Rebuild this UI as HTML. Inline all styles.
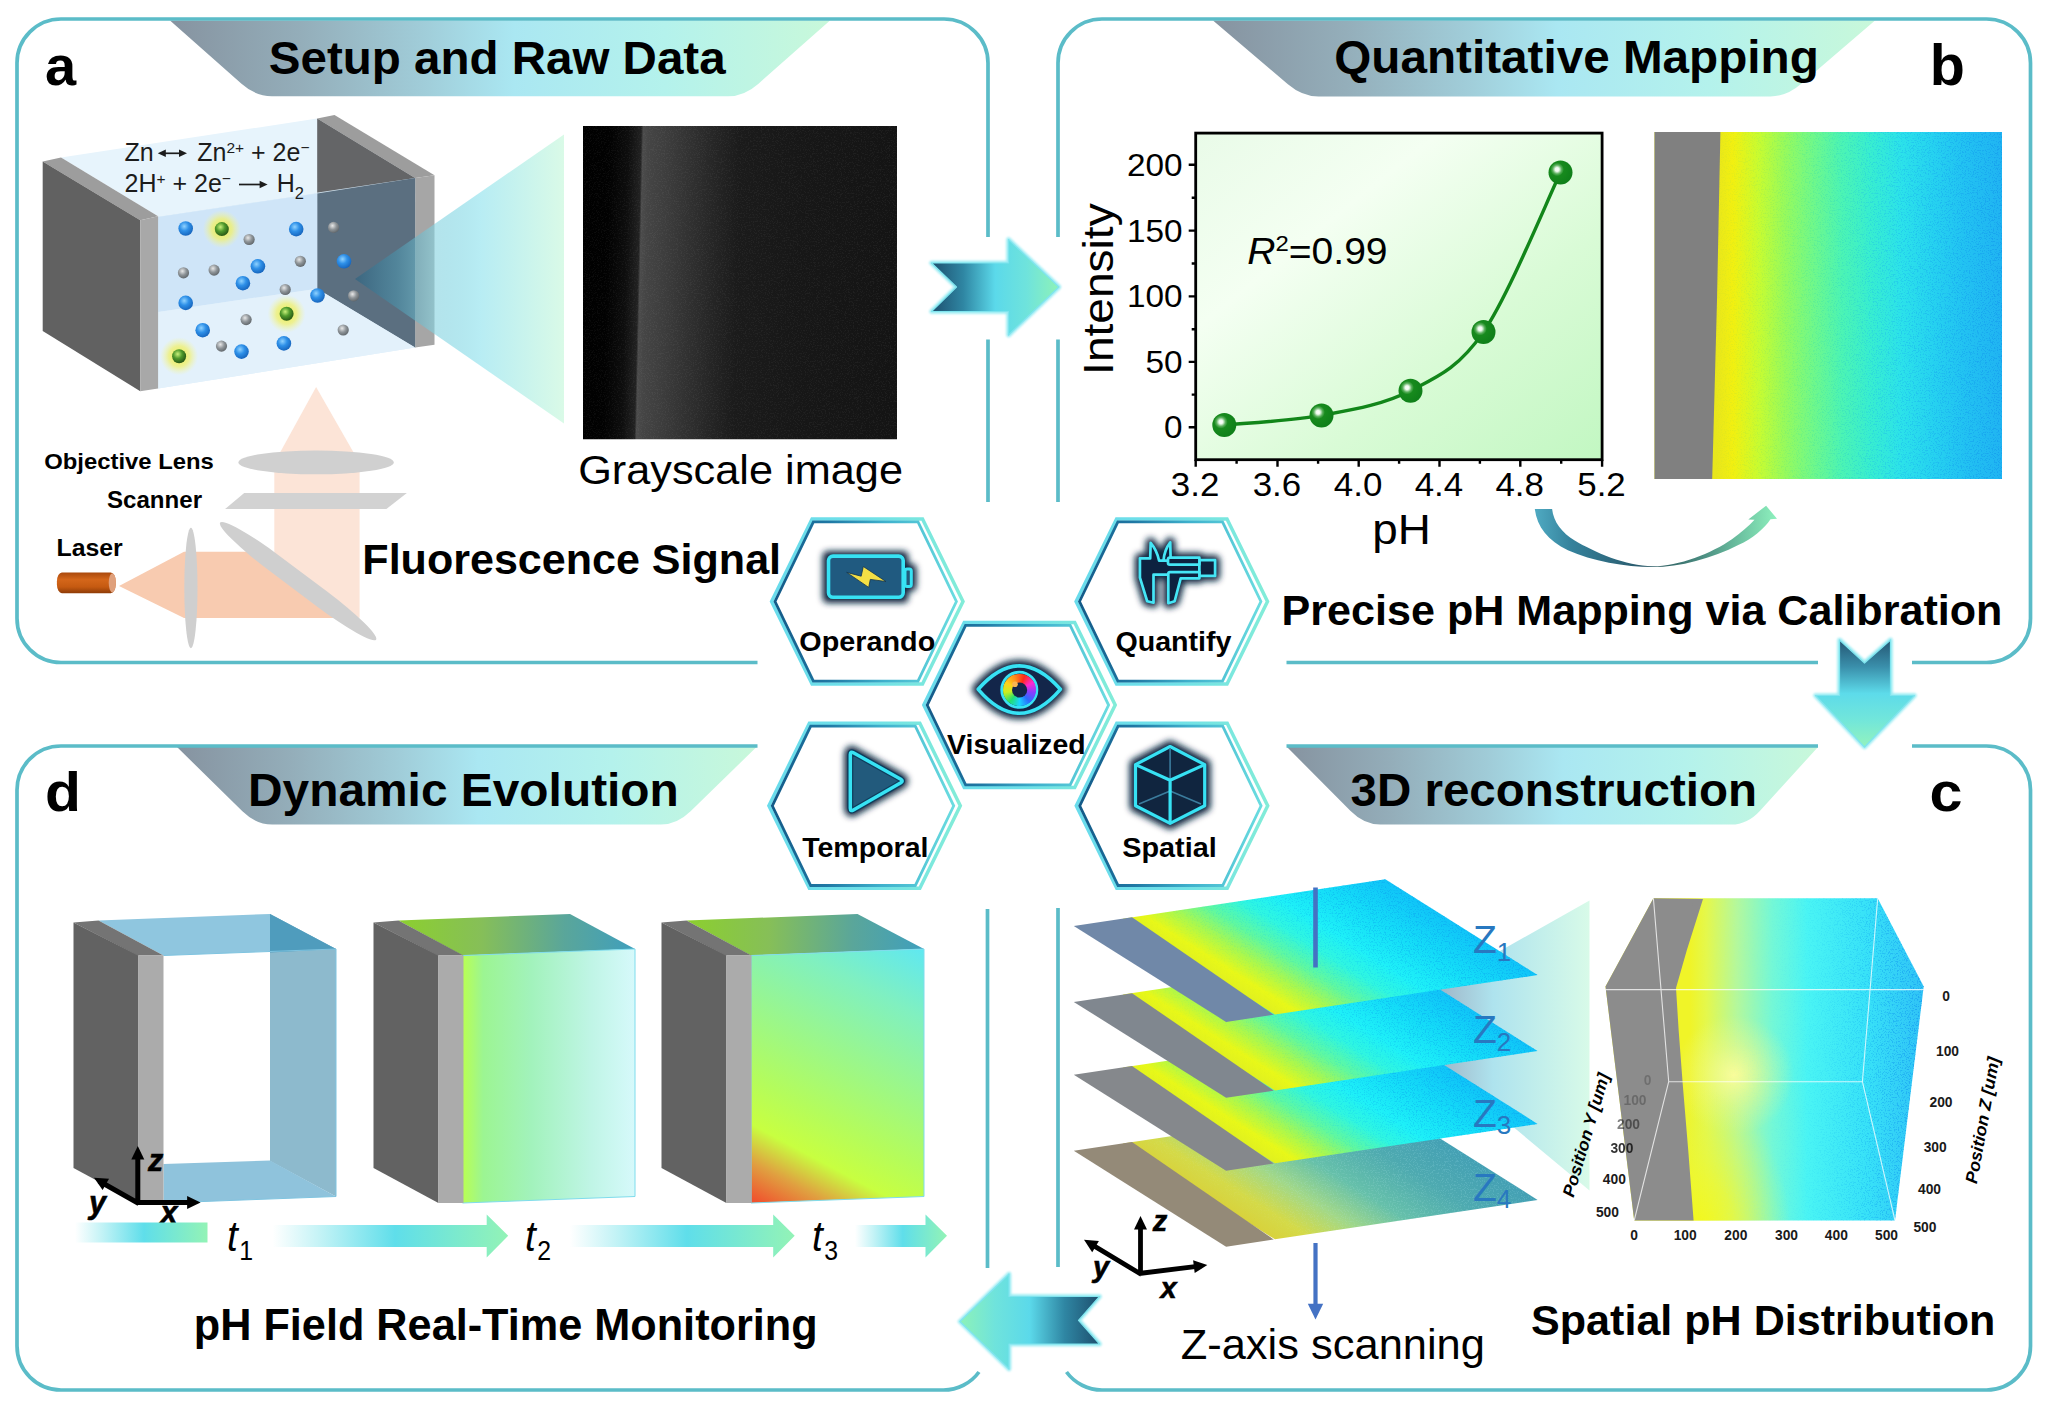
<!DOCTYPE html>
<html lang="en"><head><meta charset="utf-8"><title>Operando pH visualization</title>
<style>
html,body{margin:0;padding:0;background:#fff;}
body{width:2048px;height:1408px;overflow:hidden;position:relative;font-family:"Liberation Sans",sans-serif;}
svg{position:absolute;left:0;top:0;display:block;}
svg text{font-family:"Liberation Sans",sans-serif;}
.b{font-weight:700;}
.i{font-style:italic;}
#iris{position:absolute;border-radius:50%;background:conic-gradient(from 20deg,#ff2a1a,#ff2ad0,#8a3cff,#2a6cff,#19d3ff,#22e070,#c8f020,#ffd21a,#ff8a1a,#ff2a1a);}
</style></head><body>
<svg width="2048" height="1408" viewBox="0 0 2048 1408">
<defs>
<linearGradient id="gBanner" x1="0" y1="0" x2="1" y2="0">
 <stop offset="0" stop-color="#8693a0"/><stop offset="0.2" stop-color="#94aeba"/><stop offset="0.38" stop-color="#a0ccd8"/>
 <stop offset="0.52" stop-color="#aae7f2"/><stop offset="0.75" stop-color="#b4f2ec"/><stop offset="1" stop-color="#c8f8da"/>
</linearGradient>
<linearGradient id="gArrowR" x1="0" y1="0" x2="1" y2="0">
 <stop offset="0" stop-color="#1d4f6e"/><stop offset="0.25" stop-color="#2f86a3"/><stop offset="0.5" stop-color="#5bd9ea"/>
 <stop offset="0.75" stop-color="#6fe3dc"/><stop offset="1" stop-color="#8df2b8"/>
</linearGradient>
<linearGradient id="gArrowL" x1="1" y1="0" x2="0" y2="0">
 <stop offset="0" stop-color="#1d4f6e"/><stop offset="0.25" stop-color="#2f86a3"/><stop offset="0.5" stop-color="#5bd9ea"/>
 <stop offset="0.75" stop-color="#6fe3dc"/><stop offset="1" stop-color="#8df2b8"/>
</linearGradient>
<linearGradient id="gArrowD" x1="0" y1="0" x2="0" y2="1">
 <stop offset="0" stop-color="#245673"/><stop offset="0.25" stop-color="#3a8fab"/><stop offset="0.5" stop-color="#5ddbea"/>
 <stop offset="0.75" stop-color="#72e6da"/><stop offset="1" stop-color="#93f3bd"/>
</linearGradient>
<linearGradient id="gCone" gradientUnits="userSpaceOnUse" x1="355" y1="0" x2="564" y2="0">
 <stop offset="0" stop-color="#28607f" stop-opacity="0.6"/><stop offset="0.2" stop-color="#4a97b0" stop-opacity="0.55"/>
 <stop offset="0.38" stop-color="#86d3e0" stop-opacity="0.62"/><stop offset="0.6" stop-color="#aeeaf2" stop-opacity="0.88"/><stop offset="1" stop-color="#d8fae6" stop-opacity="0.96"/>
</linearGradient>
<linearGradient id="gConeC" gradientUnits="userSpaceOnUse" x1="1440" y1="0" x2="1592" y2="0">
 <stop offset="0" stop-color="#9fb6c8"/><stop offset="0.35" stop-color="#aee3ee"/>
 <stop offset="1" stop-color="#d9fbe8"/>
</linearGradient>
<linearGradient id="gChart" x1="0" y1="0" x2="1" y2="1">
 <stop offset="0" stop-color="#e9fbe8"/><stop offset="0.3" stop-color="#f4fff2"/><stop offset="0.65" stop-color="#d9fbd6"/><stop offset="1" stop-color="#c2f7c2"/>
</linearGradient>
<radialGradient id="gBall" cx="0.36" cy="0.37" r="0.62">
 <stop offset="0" stop-color="#ffffff"/><stop offset="0.13" stop-color="#eefaee"/><stop offset="0.3" stop-color="#5bb05d"/><stop offset="0.45" stop-color="#178a1d"/><stop offset="1" stop-color="#10801a"/>
</radialGradient>
<radialGradient id="gBlue" cx="0.4" cy="0.35" r="0.7">
 <stop offset="0" stop-color="#8fd2ff"/><stop offset="0.45" stop-color="#2e90e8"/><stop offset="1" stop-color="#1460b8"/>
</radialGradient>
<radialGradient id="gGray" cx="0.4" cy="0.35" r="0.7">
 <stop offset="0" stop-color="#e8e8e8"/><stop offset="0.5" stop-color="#8f9599"/><stop offset="1" stop-color="#5c6266"/>
</radialGradient>
<radialGradient id="gGreen" cx="0.4" cy="0.35" r="0.7">
 <stop offset="0" stop-color="#c9f07a"/><stop offset="0.45" stop-color="#4f9a2c"/><stop offset="1" stop-color="#234f12"/>
</radialGradient>
<radialGradient id="gGlow" cx="0.5" cy="0.5" r="0.5">
 <stop offset="0" stop-color="#eef03a" stop-opacity="0.95"/><stop offset="0.55" stop-color="#f0f070" stop-opacity="0.75"/><stop offset="1" stop-color="#f4f6a0" stop-opacity="0"/>
</radialGradient>
<linearGradient id="gGrayImg" gradientUnits="userSpaceOnUse" x1="583" y1="0" x2="897" y2="0">
 <stop offset="0" stop-color="#000000"/><stop offset="0.086" stop-color="#020202"/><stop offset="0.146" stop-color="#0e0e0e"/>
 <stop offset="0.186" stop-color="#222222"/><stop offset="0.192" stop-color="#4c4c4c"/><stop offset="0.21" stop-color="#454545"/>
 <stop offset="0.27" stop-color="#3d3d3d"/><stop offset="0.347" stop-color="#313131"/><stop offset="0.42" stop-color="#262626"/>
 <stop offset="0.5" stop-color="#1b1b1b"/><stop offset="0.7" stop-color="#171717"/><stop offset="1" stop-color="#141414"/>
</linearGradient>
<clipPath id="cGray"><rect x="583" y="126" width="314" height="313.5"/></clipPath>
<linearGradient id="gCmapU" gradientUnits="userSpaceOnUse" x1="1716" y1="0" x2="2002" y2="0">
 <stop offset="0" stop-color="#e8e61c"/><stop offset="0.06" stop-color="#f2f010"/><stop offset="0.15" stop-color="#c8fc30"/>
 <stop offset="0.24" stop-color="#98fa5c"/><stop offset="0.34" stop-color="#70f88a"/><stop offset="0.44" stop-color="#4cf4b4"/>
 <stop offset="0.54" stop-color="#38eed0"/><stop offset="0.65" stop-color="#2ce2ea"/><stop offset="0.76" stop-color="#26d2f0"/>
 <stop offset="0.87" stop-color="#22c2f2"/><stop offset="1" stop-color="#20b4f2"/>
</linearGradient>
<linearGradient id="gSpeckB" gradientUnits="userSpaceOnUse" x1="1716" y1="0" x2="2002" y2="0">
 <stop offset="0" stop-color="#d8e020" stop-opacity="0.2"/><stop offset="0.3" stop-color="#30e0a0" stop-opacity="0.2"/>
 <stop offset="0.55" stop-color="#18b0f0" stop-opacity="0.3"/><stop offset="1" stop-color="#1090ec" stop-opacity="0.5"/>
</linearGradient>
<linearGradient id="gPlane" x1="0" y1="0" x2="1" y2="0">
 <stop offset="0" stop-color="#e0f020"/><stop offset="0.08" stop-color="#e8f818"/><stop offset="0.2" stop-color="#a8f850"/>
 <stop offset="0.32" stop-color="#60f8a0"/><stop offset="0.45" stop-color="#30f6e0"/><stop offset="0.58" stop-color="#1ef0f8"/>
 <stop offset="0.78" stop-color="#14dcf8"/><stop offset="1" stop-color="#10c4f8"/>
</linearGradient>
<linearGradient id="gSpeckP" x1="0" y1="0" x2="1" y2="0">
 <stop offset="0" stop-color="#30d8a0" stop-opacity="0"/><stop offset="0.4" stop-color="#10c8f0" stop-opacity="0.2"/>
 <stop offset="0.7" stop-color="#0cb0f0" stop-opacity="0.45"/><stop offset="1" stop-color="#0ca4f0" stop-opacity="0.55"/>
</linearGradient>
<linearGradient id="gSpeckP4" x1="0" y1="0" x2="1" y2="0">
 <stop offset="0" stop-color="#ffffff" stop-opacity="0"/><stop offset="0.3" stop-color="#b0e8d8" stop-opacity="0.18"/>
 <stop offset="1" stop-color="#90d8e8" stop-opacity="0.22"/>
</linearGradient>
<linearGradient id="gSpeckBox" gradientUnits="userSpaceOnUse" x1="1690" y1="0" x2="1925" y2="0">
 <stop offset="0" stop-color="#ffffff" stop-opacity="0"/><stop offset="0.5" stop-color="#20c8f8" stop-opacity="0.1"/>
 <stop offset="0.8" stop-color="#10a0f0" stop-opacity="0.4"/><stop offset="1" stop-color="#1090f0" stop-opacity="0.6"/>
</linearGradient>
<linearGradient id="gPlane4" x1="0" y1="0" x2="1" y2="0">
 <stop offset="0" stop-color="#d8d23c"/><stop offset="0.12" stop-color="#d4da48"/><stop offset="0.3" stop-color="#a2d888"/>
 <stop offset="0.5" stop-color="#66c0aa"/><stop offset="0.75" stop-color="#4eaab0"/><stop offset="1" stop-color="#44a0b4"/>
</linearGradient>
<linearGradient id="gTime" x1="0" y1="0" x2="1" y2="0">
 <stop offset="0" stop-color="#ffffff"/><stop offset="0.2" stop-color="#c4f3f6"/><stop offset="0.52" stop-color="#5fdeea"/><stop offset="1" stop-color="#93f3b6"/>
</linearGradient>
<linearGradient id="gT2top" x1="0" y1="0" x2="1" y2="0">
 <stop offset="0" stop-color="#8ccf2e"/><stop offset="0.35" stop-color="#86bf58"/><stop offset="0.7" stop-color="#5aa69a"/><stop offset="1" stop-color="#3f9fbd"/>
</linearGradient>
<linearGradient id="gT2front" x1="0" y1="0" x2="1" y2="0">
 <stop offset="0" stop-color="#b9ff52"/><stop offset="0.12" stop-color="#9cf592"/><stop offset="0.4" stop-color="#a2f2bc"/><stop offset="0.75" stop-color="#c0f5e6"/><stop offset="1" stop-color="#d6f9fb"/>
</linearGradient>
<linearGradient id="gT3front" gradientUnits="userSpaceOnUse" x1="752" y1="1199.5" x2="893.5" y2="934.6">
 <stop offset="0" stop-color="#f0522e"/><stop offset="0.11" stop-color="#e0a040"/><stop offset="0.22" stop-color="#c8ff40"/><stop offset="0.36" stop-color="#b4fc5c"/>
 <stop offset="0.52" stop-color="#a0f880"/><stop offset="0.8" stop-color="#80f0c0"/><stop offset="1" stop-color="#60e8f0"/>
</linearGradient>
<linearGradient id="gLaser" x1="0" y1="0" x2="0" y2="1">
 <stop offset="0" stop-color="#a9480c"/><stop offset="0.35" stop-color="#d4661a"/><stop offset="0.7" stop-color="#c55a11"/><stop offset="1" stop-color="#8e3b07"/>
</linearGradient>
<linearGradient id="gHex" x1="0" y1="0" x2="1" y2="0">
 <stop offset="0" stop-color="#6adcec"/><stop offset="0.5" stop-color="#6fe0e8"/><stop offset="1" stop-color="#82ecd8"/>
</linearGradient>
<linearGradient id="gHexIn" x1="0" y1="0" x2="1" y2="0">
 <stop offset="0" stop-color="#135a88"/><stop offset="0.3" stop-color="#1f78a4"/><stop offset="0.6" stop-color="#3eb0cc"/><stop offset="1" stop-color="#6adce0"/>
</linearGradient>
<linearGradient id="gCurve" gradientUnits="userSpaceOnUse" x1="1535" y1="0" x2="1775" y2="0">
 <stop offset="0" stop-color="#4faac2"/><stop offset="0.15" stop-color="#35829c"/><stop offset="0.44" stop-color="#2a5a6c"/>
 <stop offset="0.53" stop-color="#316264"/><stop offset="0.7" stop-color="#4c8e82"/><stop offset="0.86" stop-color="#6ec4a2"/><stop offset="1" stop-color="#8ceebc"/>
</linearGradient>
<linearGradient id="gBoxC" gradientUnits="userSpaceOnUse" x1="1690" y1="0" x2="1925" y2="0">
 <stop offset="0" stop-color="#f0f428"/><stop offset="0.07" stop-color="#e4f84c"/><stop offset="0.2" stop-color="#b4f89c"/>
 <stop offset="0.35" stop-color="#74f8d6"/><stop offset="0.5" stop-color="#4af4f4"/><stop offset="0.75" stop-color="#38e2f8"/><stop offset="1" stop-color="#30c2f6"/>
</linearGradient>
<radialGradient id="gBoxY" gradientUnits="userSpaceOnUse" cx="1698" cy="1238" r="150" gradientTransform="translate(1698 1238) scale(0.62 1) translate(-1698 -1238)">
 <stop offset="0" stop-color="#f4f818" stop-opacity="1"/><stop offset="0.4" stop-color="#eef830" stop-opacity="0.75"/><stop offset="1" stop-color="#d8f860" stop-opacity="0"/>
</radialGradient>
<radialGradient id="gBoxHi" gradientUnits="userSpaceOnUse" cx="1734" cy="1075" r="60">
 <stop offset="0" stop-color="#fdfd9a" stop-opacity="0.95"/><stop offset="0.5" stop-color="#f6fb8a" stop-opacity="0.45"/><stop offset="1" stop-color="#eefb8a" stop-opacity="0"/>
</radialGradient>
<filter id="blur3" x="-30%" y="-30%" width="160%" height="160%"><feGaussianBlur stdDeviation="3"/></filter>
<filter id="blur2" x="-30%" y="-30%" width="160%" height="160%"><feGaussianBlur stdDeviation="2"/></filter>
<filter id="blur1" x="-30%" y="-30%" width="160%" height="160%"><feGaussianBlur stdDeviation="1.2"/></filter>
<filter id="noise" x="0" y="0" width="100%" height="100%" color-interpolation-filters="sRGB">
 <feTurbulence type="fractalNoise" baseFrequency="0.75" numOctaves="2" seed="7" result="n"/>
 <feColorMatrix in="n" type="matrix" values="0 0 0 0 1  0 0 0 0 1  0 0 0 0 1  7 0 0 0 -3.7" result="m"/>
 <feComposite in="SourceGraphic" in2="m" operator="in"/>
</filter>
</defs>
<path d="M170,20.5 L241.5,83.7 Q255.7,96.3 271.8,96.3 L728.1,96.3 Q744.3,96.3 758.5,83.7 L830,20.5 Z" fill="url(#gBanner)"/>
<path d="M1213,20.5 L1287.9,84.2 Q1302.4,96.5 1318.6,96.5 L1770.4,96.5 Q1786.6,96.5 1801.0,84.1 L1875,20.5 Z" fill="url(#gBanner)"/>
<path d="M177,747 L242.4,811.3 Q256,824.6 272.1,824.6 L660.9,824.6 Q677,824.6 690.6,811.3 L756.5,747 Z" fill="url(#gBanner)"/>
<path d="M1287,747 L1350.6,811.1 Q1364,824.6 1380.2,824.6 L1731.3,824.6 Q1747.5,824.6 1760.3,810.5 L1818,747 Z" fill="url(#gBanner)"/>
<path fill="none" stroke="#5bbcc8" stroke-width="3.7" stroke-linecap="butt" d="M988,502 V339.6 M988,237 V63 A44,44 0 0 0 944,19 H61 A44,44 0 0 0 17,63 V618.5 A44,44 0 0 0 61,662.5 H757.5"/>
<path fill="none" stroke="#5bbcc8" stroke-width="3.7" stroke-linecap="butt" d="M1058,502 V339.6 M1058,237 V63 A44,44 0 0 1 1102,19 H1986.5 A44,44 0 0 1 2030.5,63 V618.5 A44,44 0 0 1 1986.5,662.5 H1912 M1818,662.5 H1286.5"/>
<path fill="none" stroke="#5bbcc8" stroke-width="3.7" stroke-linecap="butt" d="M1286.5,746 H1818 M1912,746 H1986.5 A44,44 0 0 1 2030.5,790 V1346 A44,44 0 0 1 1986.5,1390 H1102 A44,44 0 0 1 1066.5,1372 M1058,1267 V908"/>
<path fill="none" stroke="#5bbcc8" stroke-width="3.7" stroke-linecap="butt" d="M757.5,746 H61 A44,44 0 0 0 17,790 V1346 A44,44 0 0 0 61,1390 H943.5 A44,44 0 0 0 979,1372 M987.5,1268 V909"/>
<text class="b" x="268.79" y="73.7" font-size="46" textLength="456.81" lengthAdjust="spacingAndGlyphs">Setup and Raw Data</text>
<text class="b" x="1334.28" y="73.3" font-size="46" textLength="484.54" lengthAdjust="spacingAndGlyphs">Quantitative Mapping</text>
<text class="b" x="248.04" y="806" font-size="46" textLength="430.81" lengthAdjust="spacingAndGlyphs">Dynamic Evolution</text>
<text class="b" x="1350.48" y="806" font-size="46" textLength="406.55" lengthAdjust="spacingAndGlyphs">3D reconstruction</text>
<text class="b" x="45" y="85" font-size="56">a</text>
<text class="b" x="1929.8" y="84.8" font-size="57.5">b</text>
<text class="b" x="1929.6" y="811" font-size="56" textLength="33" lengthAdjust="spacingAndGlyphs">c</text>
<text class="b" x="45" y="811" font-size="56" textLength="36" lengthAdjust="spacingAndGlyphs">d</text>
<path d="M931.5,263 H1008.5 V239.5 L1058.8,287 L1008.5,335 V311.5 H931.5 L956.5,287 Z" fill="#8eeaf2" stroke="#8eeaf2" stroke-width="4.5" stroke-linejoin="round" filter="url(#blur1)" opacity="0.9"/><path d="M931.5,263 H1008.5 V239.5 L1058.8,287 L1008.5,335 V311.5 H931.5 L956.5,287 Z" fill="url(#gArrowR)" stroke="#7fe4ee" stroke-width="1.2" stroke-linejoin="round"/>
<path d="M1839.5,640 L1864.5,663 L1890.5,640 V695.5 H1914.5 L1864.5,747 L1815.5,695.5 H1839.5 Z" fill="#8eeaf2" stroke="#8eeaf2" stroke-width="4.5" stroke-linejoin="round" filter="url(#blur1)" opacity="0.9"/><path d="M1839.5,640 L1864.5,663 L1890.5,640 V695.5 H1914.5 L1864.5,747 L1815.5,695.5 H1839.5 Z" fill="url(#gArrowD)" stroke="#7fe4ee" stroke-width="1.2" stroke-linejoin="round"/>
<path d="M1099.5,1296.5 H1009 V1274 L960,1321.5 L1009,1369 V1344 H1099.5 L1078.5,1320.3 Z" fill="#8eeaf2" stroke="#8eeaf2" stroke-width="4.5" stroke-linejoin="round" filter="url(#blur1)" opacity="0.9"/><path d="M1099.5,1296.5 H1009 V1274 L960,1321.5 L1009,1369 V1344 H1099.5 L1078.5,1320.3 Z" fill="url(#gArrowL)" stroke="#7fe4ee" stroke-width="1.2" stroke-linejoin="round"/>
<polygon points="61.0,157.4 317.2,118.6 415.1,177.9 158.1,216.2" fill="#e7f4fc"/>
<polygon points="317.2,118.6 334.5,115.0 434.5,175.2 415.1,177.9" fill="#9d9d9d"/>
<polygon points="317.2,118.6 415.1,177.9 415.1,347.5 317.2,288.7" fill="#646567"/>
<polygon points="415.1,177.9 434.5,175.2 434.5,344.7 415.1,347.5" fill="#a6a6a6"/>
<polygon points="158.1,216.2 415.1,177.9 415.1,347.5 158.1,388.5" fill="#d9ecfa" fill-opacity="0.9"/>
<polygon points="317.2,193.5 415.1,177.9 415.1,347.5 317.2,288.7" fill="#5b6f80"/>
<polygon points="158.1,217.0 317.2,193.5 317.2,288.7 158.1,311.9" fill="#cfe5f8"/>
<polygon points="158.1,311.9 317.2,288.7 415.1,347.5 158.1,388.5" fill="#e3f1fb"/>
<polygon points="42.7,161.5 61.0,157.4 158.1,216.2 140.3,220.3" fill="#9d9d9d"/>
<polygon points="42.7,161.5 140.3,220.3 140.3,391.2 42.7,331.1" fill="#616161"/>
<polygon points="140.3,220.3 158.1,216.2 158.1,388.5 140.3,391.2" fill="#a8a8a8"/>
<circle cx="221.8" cy="229.1" r="19" fill="url(#gGlow)"/>
<circle cx="221.8" cy="229.1" r="7" fill="url(#gGreen)"/>
<circle cx="286.6" cy="313.8" r="19" fill="url(#gGlow)"/>
<circle cx="286.6" cy="313.8" r="7" fill="url(#gGreen)"/>
<circle cx="179.1" cy="356.2" r="19" fill="url(#gGlow)"/>
<circle cx="179.1" cy="356.2" r="7" fill="url(#gGreen)"/>
<circle cx="185.7" cy="228.5" r="7.3" fill="url(#gBlue)"/>
<circle cx="296.2" cy="229.1" r="7.3" fill="url(#gBlue)"/>
<circle cx="257.9" cy="266.3" r="7.3" fill="url(#gBlue)"/>
<circle cx="344.0" cy="261.3" r="7.3" fill="url(#gBlue)"/>
<circle cx="242.9" cy="283.2" r="7.3" fill="url(#gBlue)"/>
<circle cx="185.7" cy="302.9" r="7.3" fill="url(#gBlue)"/>
<circle cx="317.5" cy="295.5" r="7.3" fill="url(#gBlue)"/>
<circle cx="202.7" cy="330.2" r="7.3" fill="url(#gBlue)"/>
<circle cx="283.9" cy="343.4" r="7.3" fill="url(#gBlue)"/>
<circle cx="241.5" cy="351.6" r="7.3" fill="url(#gBlue)"/>
<circle cx="249.1" cy="239.5" r="5.6" fill="url(#gGray)"/>
<circle cx="333.6" cy="227.4" r="5.6" fill="url(#gGray)"/>
<circle cx="183.5" cy="272.8" r="5.6" fill="url(#gGray)"/>
<circle cx="214.1" cy="270.1" r="5.6" fill="url(#gGray)"/>
<circle cx="300.3" cy="261.3" r="5.6" fill="url(#gGray)"/>
<circle cx="285.2" cy="289.5" r="5.6" fill="url(#gGray)"/>
<circle cx="353.6" cy="295.8" r="5.6" fill="url(#gGray)"/>
<circle cx="246.1" cy="319.6" r="5.6" fill="url(#gGray)"/>
<circle cx="343.2" cy="330.0" r="5.6" fill="url(#gGray)"/>
<circle cx="221.5" cy="346.1" r="5.6" fill="url(#gGray)"/>
<polygon points="355,279 564,134.5 564,423.5" fill="url(#gCone)"/>
<text x="124.5" y="161.2" font-size="25" fill="#1c1c1c">Zn</text>
<text x="197.2" y="161.2" font-size="25" fill="#1c1c1c">Zn<tspan font-size="15.5" dy="-8.6">2+</tspan><tspan dy="8.6"> + 2e</tspan><tspan font-size="15.5" dy="-8.6">−</tspan></text>
<path d="M162,153.3 H183" stroke="#1c1c1c" stroke-width="1.7" fill="none"/><polygon points="157.8,153.3 165.8,149.6 165.8,157" fill="#1c1c1c"/><polygon points="187,153.3 179,149.6 179,157" fill="#1c1c1c"/>
<text x="124.5" y="192.3" font-size="25" fill="#1c1c1c">2H<tspan font-size="15.5" dy="-8.6">+</tspan><tspan dy="8.6"> + 2e</tspan><tspan font-size="15.5" dy="-8.6">−</tspan></text>
<path d="M239,184.5 H262" stroke="#1c1c1c" stroke-width="1.7" fill="none"/><polygon points="267.6,184.5 259.6,180.8 259.6,188.2" fill="#1c1c1c"/>
<text x="276.8" y="192.3" font-size="25" fill="#1c1c1c">H<tspan font-size="16.5" dy="6.5">2</tspan></text>
<polygon points="316.1,387 274.3,463 274.3,617.8 359.6,617.8 359.6,463" fill="#fce4d7"/>
<polygon points="119,586 184,551.8 252,551.8 342,618 184,618" fill="#f8cbb0"/>
<ellipse cx="316.1" cy="462.4" rx="77.7" ry="11.9" fill="#d0d0d0"/>
<polygon points="244.2,493 406.9,493 386.4,509 225.1,509" fill="#d2d2d2"/>
<ellipse cx="190.9" cy="588" rx="6.6" ry="60.2" fill="#cfcfcf"/>
<rect x="200.6" y="572.1" width="195" height="18" rx="68" ry="9" fill="#cfcfcf" transform="rotate(36.9 298.1 581.1)"/>
<rect x="56.9" y="572.4" width="58.8" height="20.8" rx="5" ry="9" fill="url(#gLaser)"/>
<ellipse cx="112.3" cy="582.8" rx="3.6" ry="9.6" fill="#dfa07c"/>
<text class="b" x="44.19" y="468.5" font-size="22.5" textLength="169.64" lengthAdjust="spacingAndGlyphs">Objective Lens</text>
<text class="b" x="106.98" y="507.5" font-size="23" textLength="95.04" lengthAdjust="spacingAndGlyphs">Scanner</text>
<text class="b" x="56.48" y="555.5" font-size="23" textLength="66.27" lengthAdjust="spacingAndGlyphs">Laser</text>
<text class="b" x="362.36" y="574.4" font-size="42" textLength="418.68" lengthAdjust="spacingAndGlyphs">Fluorescence Signal</text>
<g clip-path="url(#cGray)"><rect x="560" y="126" width="360" height="313.5" fill="url(#gGrayImg)" transform="translate(0,126) skewX(-1.28) translate(0,-126)"/></g>
<rect x="583" y="126" width="314" height="313.5" fill="#ffffff" filter="url(#noise)" opacity="0.04"/>
<text x="578.15" y="483.5" font-size="41" textLength="324.88" lengthAdjust="spacingAndGlyphs">Grayscale image</text>
<rect x="1195.7" y="133.1" width="406.4" height="326.6" fill="url(#gChart)"/>
<path d="M1188.7,164.8 H1195.7 M1188.7,230.6 H1195.7 M1188.7,296.4 H1195.7 M1188.7,361.9 H1195.7 M1188.7,427.3 H1195.7 M1191.7,197.7 H1195.7 M1191.7,263.5 H1195.7 M1191.7,329.2 H1195.7 M1191.7,394.6 H1195.7 M1195.7,459.7 V466.7 M1277.5,459.7 V466.7 M1358.7,459.7 V466.7 M1439.5,459.7 V466.7 M1520.3,459.7 V466.7 M1602.1,459.7 V466.7 M1236.6,459.7 V463.7 M1318.1,459.7 V463.7 M1399.1,459.7 V463.7 M1479.9,459.7 V463.7 M1561.2,459.7 V463.7" stroke="#000" stroke-width="2.4" fill="none"/>
<rect x="1195.7" y="133.1" width="406.4" height="326.6" fill="none" stroke="#000" stroke-width="2.8"/>
<text x="1182.5" y="175.8" font-size="31.3" text-anchor="end" textLength="55.6" lengthAdjust="spacingAndGlyphs">200</text>
<text x="1182.5" y="241.6" font-size="31.3" text-anchor="end" textLength="55.6" lengthAdjust="spacingAndGlyphs">150</text>
<text x="1182.5" y="307.4" font-size="31.3" text-anchor="end" textLength="55.6" lengthAdjust="spacingAndGlyphs">100</text>
<text x="1182.5" y="372.9" font-size="31.3" text-anchor="end" textLength="37.1" lengthAdjust="spacingAndGlyphs">50</text>
<text x="1182.5" y="438.3" font-size="31.3" text-anchor="end" textLength="18.5" lengthAdjust="spacingAndGlyphs">0</text>
<text x="1195.1000000000001" y="496.4" font-size="32.3" text-anchor="middle" textLength="48.5" lengthAdjust="spacingAndGlyphs">3.2</text>
<text x="1276.9" y="496.4" font-size="32.3" text-anchor="middle" textLength="48.5" lengthAdjust="spacingAndGlyphs">3.6</text>
<text x="1358.1000000000001" y="496.4" font-size="32.3" text-anchor="middle" textLength="48.5" lengthAdjust="spacingAndGlyphs">4.0</text>
<text x="1438.9" y="496.4" font-size="32.3" text-anchor="middle" textLength="48.5" lengthAdjust="spacingAndGlyphs">4.4</text>
<text x="1519.7" y="496.4" font-size="32.3" text-anchor="middle" textLength="48.5" lengthAdjust="spacingAndGlyphs">4.8</text>
<text x="1601.5" y="496.4" font-size="32.3" text-anchor="middle" textLength="48.5" lengthAdjust="spacingAndGlyphs">5.2</text>
<text x="1372.3" y="543.6" font-size="42" textLength="58.6" lengthAdjust="spacingAndGlyphs">pH</text>
<text transform="translate(1113,374.9) rotate(-90)" font-size="42.5" textLength="171.6" lengthAdjust="spacingAndGlyphs">Intensity</text>
<path d="M1224.3,425.0 C1240.5,423.4 1290.5,421.1 1321.5,415.4 C1352.5,409.7 1383.5,404.7 1410.5,390.8 C1437.5,376.9 1458.5,368.3 1483.5,331.9 C1508.5,295.5 1547.7,199.1 1560.5,172.6" fill="none" stroke="#12861a" stroke-width="3.4" stroke-linecap="round"/>
<circle cx="1224.3" cy="425" r="12" fill="url(#gBall)"/>
<circle cx="1321.5" cy="415.4" r="12" fill="url(#gBall)"/>
<circle cx="1410.5" cy="390.8" r="12" fill="url(#gBall)"/>
<circle cx="1483.5" cy="331.9" r="12" fill="url(#gBall)"/>
<circle cx="1560.5" cy="172.6" r="12" fill="url(#gBall)"/>
<text x="1247.2" y="263.7" font-size="36" textLength="140.4" lengthAdjust="spacingAndGlyphs"><tspan class="i">R</tspan><tspan font-size="22" dy="-13">2</tspan><tspan dy="13">=0.99</tspan></text>
<rect x="1654.5" y="132" width="347.5" height="347" fill="url(#gCmapU)"/>
<rect x="1716" y="132" width="286" height="347" fill="url(#gSpeckB)" filter="url(#noise)"/>
<polygon points="1654.5,132 1720.4,132 1717,300 1712.2,479 1654.5,479" fill="#808080"/>
<path d="M1534.8,509.1 H1552.1 C1553.5,522 1562,533 1574.7,540.6 C1594,552 1626,566.3 1652.6,566.3 C1679,566.3 1712,553 1731.9,539.2 C1741,532.5 1749,526 1754.5,519.8 L1748.3,519.4 L1766.1,505.7 L1777,518.7 L1770.5,519.2 C1764,529 1752,539 1738.8,544.7 C1712,558.5 1680,567 1652.6,567 C1625,567 1592,561 1567.9,550.2 C1548,541 1537,527 1534.8,509.1 Z" fill="url(#gCurve)"/>
<text class="b" x="1281.58" y="625.4" font-size="43" textLength="720.84" lengthAdjust="spacingAndGlyphs">Precise pH Mapping via Calibration</text>
<polygon points="1440,978 1500,951 1589.5,900.5 1589.5,1190.5 1440,1066" fill="url(#gConeC)"/>
<g transform="matrix(311.5,-46.8,152.3,95.9,1073.8,1150.8)"><rect x="0.157" y="0" width="0.843" height="1" fill="url(#gPlane4)"/><polygon points="0,0 0.187,0 0.153,1 0,1" fill="#948a78"/></g>
<g filter="url(#noise)"><g transform="matrix(311.5,-46.8,152.3,95.9,1073.8,1150.8)"><rect x="0.187" y="0" width="0.813" height="1" fill="url(#gSpeckP4)"/></g></g>
<g transform="matrix(311.5,-46.8,152.3,95.9,1073.8,1074.8)"><rect x="0.157" y="0" width="0.843" height="1" fill="url(#gPlane)"/><polygon points="0,0 0.187,0 0.153,1 0,1" fill="#85888c"/></g>
<g filter="url(#noise)"><g transform="matrix(311.5,-46.8,152.3,95.9,1073.8,1074.8)"><rect x="0.187" y="0" width="0.813" height="1" fill="url(#gSpeckP)"/></g></g>
<g transform="matrix(311.5,-46.8,152.3,95.9,1073.8,1001.9)"><rect x="0.157" y="0" width="0.843" height="1" fill="url(#gPlane)"/><polygon points="0,0 0.187,0 0.153,1 0,1" fill="#80878f"/></g>
<g filter="url(#noise)"><g transform="matrix(311.5,-46.8,152.3,95.9,1073.8,1001.9)"><rect x="0.187" y="0" width="0.813" height="1" fill="url(#gSpeckP)"/></g></g>
<g transform="matrix(311.5,-46.8,152.3,95.9,1073.8,926.0)"><rect x="0.157" y="0" width="0.843" height="1" fill="url(#gPlane)"/><polygon points="0,0 0.187,0 0.153,1 0,1" fill="#7088a8"/></g>
<g filter="url(#noise)"><g transform="matrix(311.5,-46.8,152.3,95.9,1073.8,926.0)"><rect x="0.187" y="0" width="0.813" height="1" fill="url(#gSpeckP)"/></g></g>
<rect x="1313.2" y="887.5" width="4.6" height="80" fill="#4472c4"/>
<rect x="1313.4" y="1243" width="4.2" height="62" fill="#4472c4"/>
<polygon points="1307.8,1303.8 1323.2,1303.8 1315.5,1319.5" fill="#4472c4"/>
<text x="1473" y="953.2" font-size="39" fill="#2878c0">Z<tspan font-size="26" dy="7.5">1</tspan></text>
<text x="1473" y="1043.4" font-size="39" fill="#2878c0">Z<tspan font-size="26" dy="7.5">2</tspan></text>
<text x="1473" y="1126.6" font-size="39" fill="#2878c0">Z<tspan font-size="26" dy="7.5">3</tspan></text>
<text x="1473" y="1200.6" font-size="39" fill="#2878c0">Z<tspan font-size="26" dy="7.5">4</tspan></text>
<g stroke="#000" stroke-width="4.8" fill="none" stroke-linecap="butt"><path d="M1140.5,1273.5 L1140.5,1222 M1139.0,1273.5 L1201.3,1265.8 M1141.5,1274.5 L1089,1242.9"/></g>
<polygon points="1140.5,1216.0 1147.0,1229.5 1134.0,1229.5" fill="#000"/>
<polygon points="1207.3,1264.9 1194.7,1273.1 1193.1,1260.2" fill="#000"/>
<polygon points="1084.0,1239.7 1098.9,1241.1 1092.2,1252.2" fill="#000"/>
<text class="b i" x="1160" y="1231" font-size="29" text-anchor="middle" stroke="#000" stroke-width="0.6">z</text>
<text class="b i" x="1168.5" y="1297.5" font-size="29" text-anchor="middle" stroke="#000" stroke-width="0.6">x</text>
<text class="b i" x="1101" y="1276.5" font-size="29" text-anchor="middle" stroke="#000" stroke-width="0.6">y</text>
<text x="1180.67" y="1358.7" font-size="42" textLength="304.29" lengthAdjust="spacingAndGlyphs">Z-axis scanning</text>
<polygon points="1653.4,898.3 1877.7,898.3 1923.7,986.5 1895.0,1220.5 1634.2,1220.5 1605.5,986.5" fill="url(#gBoxC)"/>
<polygon points="1653.4,898.3 1877.7,898.3 1923.7,986.5 1895.0,1220.5 1634.2,1220.5 1605.5,986.5" fill="url(#gBoxHi)"/>
<polygon points="1653.4,898.3 1877.7,898.3 1923.7,986.5 1895.0,1220.5 1634.2,1220.5 1605.5,986.5" fill="url(#gBoxY)"/>
<polygon points="1653.4,898.3 1703.0,898.9 1686.8,950.2 1676.0,987.9 1678.7,1031.1 1682.8,1085.1 1688.2,1149.8 1693.6,1220.5 1634.2,1220.5 1605.5,986.5" fill="#8c8c8c"/>
<polygon points="1653.4,898.3 1877.7,898.3 1923.7,986.5 1895.0,1220.5 1634.2,1220.5 1605.5,986.5" fill="url(#gSpeckBox)" filter="url(#noise)"/>
<path d="M1605.5,989.6 L1923.7,989.6 M1653.4,898.3 L1668.7,1081.7 M1877.7,898.3 L1862.4,1081.7 M1668.7,1081.7 L1862.4,1081.7 M1668.7,1081.7 L1634.2,1220.5 M1862.4,1081.7 L1895.0,1220.5" stroke="#ffffff" stroke-opacity="0.75" stroke-width="1.1" fill="none"/>
<text class="b" x="1634.2" y="1239.6" font-size="13.8" text-anchor="middle" fill="#1a1a1a">0</text>
<text class="b" x="1685.2" y="1239.6" font-size="13.8" text-anchor="middle" fill="#1a1a1a">100</text>
<text class="b" x="1735.8" y="1239.6" font-size="13.8" text-anchor="middle" fill="#1a1a1a">200</text>
<text class="b" x="1786.5" y="1239.6" font-size="13.8" text-anchor="middle" fill="#1a1a1a">300</text>
<text class="b" x="1836.3" y="1239.6" font-size="13.8" text-anchor="middle" fill="#1a1a1a">400</text>
<text class="b" x="1886.5" y="1239.6" font-size="13.8" text-anchor="middle" fill="#1a1a1a">500</text>
<text class="b" x="1946.0" y="1001.1" font-size="13.8" text-anchor="middle" fill="#1a1a1a">0</text>
<text class="b" x="1947.5" y="1056.0" font-size="13.8" text-anchor="middle" fill="#1a1a1a">100</text>
<text class="b" x="1941.0" y="1106.6" font-size="13.8" text-anchor="middle" fill="#1a1a1a">200</text>
<text class="b" x="1935.2" y="1151.8" font-size="13.8" text-anchor="middle" fill="#1a1a1a">300</text>
<text class="b" x="1929.5" y="1193.6" font-size="13.8" text-anchor="middle" fill="#1a1a1a">400</text>
<text class="b" x="1924.9" y="1232.4" font-size="13.8" text-anchor="middle" fill="#1a1a1a">500</text>
<text class="b" x="1647.6" y="1084.7" font-size="13.8" text-anchor="middle" fill="#1a1a1a" opacity="0.25">0</text>
<text class="b" x="1635.0" y="1104.7" font-size="13.8" text-anchor="middle" fill="#1a1a1a" opacity="0.3">100</text>
<text class="b" x="1628.5" y="1128.8" font-size="13.8" text-anchor="middle" fill="#1a1a1a" opacity="0.55">200</text>
<text class="b" x="1621.9" y="1153.4" font-size="13.8" text-anchor="middle" fill="#1a1a1a" opacity="0.9">300</text>
<text class="b" x="1614.3" y="1184.1" font-size="13.8" text-anchor="middle" fill="#1a1a1a" opacity="1">400</text>
<text class="b" x="1607.4" y="1217.0" font-size="13.8" text-anchor="middle" fill="#1a1a1a" opacity="1">500</text>
<text class="b i" transform="translate(1586.2,1135.0) rotate(-73.6)" font-size="17" text-anchor="middle" y="5.5" textLength="128" lengthAdjust="spacingAndGlyphs">Position Y [um]</text>
<text class="b i" transform="translate(1982.8,1120.2) rotate(-79.75)" font-size="17" text-anchor="middle" y="5.5" textLength="128" lengthAdjust="spacingAndGlyphs">Position Z [um]</text>
<text class="b" x="1531.09" y="1334.7" font-size="43" textLength="464.25" lengthAdjust="spacingAndGlyphs">Spatial pH Distribution</text>
<polygon points="98.5,920.5 270,914 336,949 163.5,955.5" fill="#8fc6df"/>
<polygon points="270,914 336,949 336,1196.5 270,1161" fill="#8dbacd"/>
<polygon points="270,914 336,949 270,952.5" fill="#4f9cbd"/>
<polygon points="163.5,1164 270,1160.5 336,1196.5 163.5,1203" fill="#8fc3dc"/>
<path d="M163.5,955.5 L336,949 V1196.5 L163.5,1203" fill="none" stroke="#7fc4e0" stroke-width="1"/>
<polygon points="73.5,922.5 98.5,920.5 163.5,955.5 137.5,955.5" fill="#747474"/>
<polygon points="73.5,922.5 138.4,955.5 138.4,1203 73.5,1168" fill="#626262"/>
<rect x="138.2" y="955.5" width="25.3" height="247.5" fill="#ababab"/>
<polygon points="398.5,920.5 570,914 635,949 462.5,955.5" fill="url(#gT2top)"/>
<polygon points="462.5,955.5 635,949 635,1196.5 462.5,1203" fill="url(#gT2front)" stroke="#7fdcec" stroke-width="1"/>
<polygon points="373.5,922.5 398.5,920.5 463.5,955.5 437.5,955.5" fill="#747474"/>
<polygon points="373.5,922.5 438.4,955.5 438.4,1203 373.5,1168" fill="#626262"/>
<rect x="438.2" y="955.5" width="25.3" height="247.5" fill="#ababab"/>
<polygon points="686.5,920.5 857.5,914 924,949 751,955.5" fill="url(#gT2top)"/>
<polygon points="751,955.5 924,949 924,1196.5 751,1203" fill="url(#gT3front)" stroke="#7fdcec" stroke-width="1"/>
<polygon points="661.5,922.5 686.5,920.5 751.5,955.5 725.5,955.5" fill="#747474"/>
<polygon points="661.5,922.5 726.4,955.5 726.4,1203 661.5,1168" fill="#626262"/>
<rect x="726.2" y="955.5" width="25.3" height="247.5" fill="#ababab"/>
<g stroke="#000" stroke-width="5" fill="none" stroke-linecap="butt"><path d="M137.8,1202.5 L137.8,1152 M136.3,1202.5 L194.6,1202.5 M138.8,1203.5 L99,1181.0"/></g>
<polygon points="137.8,1146.0 144.3,1159.5 131.3,1159.5" fill="#000"/>
<polygon points="200.6,1202.5 187.1,1209.0 187.1,1196.0" fill="#000"/>
<polygon points="94.0,1177.8 109.0,1178.8 102.6,1190.1" fill="#000"/>
<text class="b i" x="155.5" y="1170.5" font-size="30.5" text-anchor="middle" stroke="#000" stroke-width="0.6">z</text>
<text class="b i" x="169" y="1222.5" font-size="30.5" text-anchor="middle" stroke="#000" stroke-width="0.6">x</text>
<text class="b i" x="97.5" y="1213" font-size="30.5" text-anchor="middle" stroke="#000" stroke-width="0.6">y</text>
<rect x="75" y="1222.5" width="132.5" height="20" fill="url(#gTime)"/>
<polygon points="272.5,1225 486.7,1225 486.7,1214.5 508.2,1235.7 486.7,1257.5 486.7,1247 272.5,1247" fill="url(#gTime)"/>
<polygon points="570,1225 773.2,1225 773.2,1214.5 794.7,1235.7 773.2,1257.5 773.2,1247 570,1247" fill="url(#gTime)"/>
<polygon points="855,1225 925.5,1225 925.5,1214.5 947,1235.7 925.5,1257.5 925.5,1247 855,1247" fill="url(#gTime)"/>
<text class="i" x="227" y="1250.8" font-size="43" textLength="26" lengthAdjust="spacingAndGlyphs">t<tspan font-size="27.5" dy="9.5" dx="1.5" font-style="normal">1</tspan></text>
<text class="i" x="525" y="1250.8" font-size="43" textLength="26" lengthAdjust="spacingAndGlyphs">t<tspan font-size="27.5" dy="9.5" dx="1.5" font-style="normal">2</tspan></text>
<text class="i" x="812" y="1250.8" font-size="43" textLength="26" lengthAdjust="spacingAndGlyphs">t<tspan font-size="27.5" dy="9.5" dx="1.5" font-style="normal">3</tspan></text>
<text class="b" x="193.77" y="1339.8" font-size="43.5" textLength="623.86" lengthAdjust="spacingAndGlyphs">pH Field Real-Time Monitoring</text>
<polygon points="771.6,601.5 812.1,519.0 922.5,519.0 963.0,601.5 922.5,684.0 812.1,684.0" fill="#fff" stroke="url(#gHex)" stroke-width="3.5" stroke-linejoin="miter"/>
<polygon points="775.0,601.5 813.4,521.8 918.0,521.8 956.4,601.5 918.0,681.2 813.4,681.2" fill="none" stroke="url(#gHexIn)" stroke-width="2.8" stroke-linejoin="miter"/>
<polygon points="1076.1,601.5 1116.6,519.0 1227.0,519.0 1267.5,601.5 1227.0,684.0 1116.6,684.0" fill="#fff" stroke="url(#gHex)" stroke-width="3.5" stroke-linejoin="miter"/>
<polygon points="1079.5,601.5 1117.9,521.8 1222.5,521.8 1260.9,601.5 1222.5,681.2 1117.9,681.2" fill="none" stroke="url(#gHexIn)" stroke-width="2.8" stroke-linejoin="miter"/>
<polygon points="768.9,805.8 809.4,723.3 919.8,723.3 960.3,805.8 919.8,888.3 809.4,888.3" fill="#fff" stroke="url(#gHex)" stroke-width="3.5" stroke-linejoin="miter"/>
<polygon points="772.3,805.8 810.7,726.1 915.3,726.1 953.7,805.8 915.3,885.5 810.7,885.5" fill="none" stroke="url(#gHexIn)" stroke-width="2.8" stroke-linejoin="miter"/>
<polygon points="1076.3,805.8 1116.8,723.3 1227.2,723.3 1267.7,805.8 1227.2,888.3 1116.8,888.3" fill="#fff" stroke="url(#gHex)" stroke-width="3.5" stroke-linejoin="miter"/>
<polygon points="1079.7,805.8 1118.1,726.1 1222.7,726.1 1261.1,805.8 1222.7,885.5 1118.1,885.5" fill="none" stroke="url(#gHexIn)" stroke-width="2.8" stroke-linejoin="miter"/>
<polygon points="923.8,705.1 964.3,622.6 1074.7,622.6 1115.2,705.1 1074.7,787.6 964.3,787.6" fill="#fff" stroke="url(#gHex)" stroke-width="3.5" stroke-linejoin="miter"/>
<polygon points="927.2,705.1 965.6,625.4 1070.2,625.4 1108.6,705.1 1070.2,784.8 965.6,784.8" fill="none" stroke="url(#gHexIn)" stroke-width="2.8" stroke-linejoin="miter"/>
<g filter="url(#blur3)" fill="#0a2540" stroke="#0a2540" stroke-width="11" stroke-linejoin="round"><rect x="828" y="556.5" width="75" height="41"/><rect x="903" y="569" width="8" height="17"/></g>
<rect x="905" y="569" width="6.3" height="17.5" rx="2" fill="#235a7c" stroke="#37e2f4" stroke-width="3"/>
<rect x="828.5" y="556.1" width="74.7" height="41.1" rx="4.5" fill="#205a80" stroke="#37e2f4" stroke-width="3.6"/>
<polygon points="846.7,572.4 861.2,576.2 863.3,566.5 885.9,581.5 870.3,579.4 868.7,587.4" fill="#f3df45" stroke="#12344f" stroke-width="0.8" stroke-linejoin="round"/>
<path d="M1139.92,558.37 L1150.19,558.37 L1150.67,542.80 Q1156.83,549.92 1159.12,560.67 L1199.39,560.67 L1199.39,574.68 L1153.51,574.68 L1153.51,602.75 L1147.17,601.24 L1139.92,577.69 Z M1199.39,560.19 L1215.09,560.19 L1215.09,575.88 L1199.39,575.88 Z M1169.81,557.65 L1199.39,557.65 L1199.39,564.53 L1169.81,564.53 Q1168.00,564.53 1168.00,562.90 L1168.00,559.28 Q1168.00,557.65 1169.81,557.65 Z M1168.30,573.77 Q1168.30,572.14 1169.99,572.14 L1199.39,572.14 L1199.39,578.30 L1180.67,578.30 L1174.64,601.24 L1168.30,603.17 Z M1170.59,557.65 L1170.23,542.38 Q1164.37,549.92 1163.47,560.67 Z" fill="#0a2540" stroke="#0a2540" stroke-width="10" stroke-linejoin="round" filter="url(#blur3)"/>
<path d="M1139.92,558.37 L1150.19,558.37 L1150.67,542.80 Q1156.83,549.92 1159.12,560.67 L1199.39,560.67 L1199.39,574.68 L1153.51,574.68 L1153.51,602.75 L1147.17,601.24 L1139.92,577.69 Z" fill="#0d2240" stroke="#45e6f6" stroke-width="2.7" stroke-linejoin="round" stroke-linecap="round"/><path d="M1199.39,560.19 L1215.09,560.19 L1215.09,575.88 L1199.39,575.88 Z" fill="#0d2240" stroke="#45e6f6" stroke-width="2.7" stroke-linejoin="round" stroke-linecap="round"/><path d="M1170.59,557.65 L1170.23,542.38 Q1164.37,549.92 1163.47,560.67 L1168.12,560.67" fill="#0d2240" stroke="#45e6f6" stroke-width="2.7" stroke-linejoin="round" stroke-linecap="round"/><path d="M1169.81,557.65 L1199.39,557.65 L1199.39,564.53 L1169.81,564.53 Q1168.00,564.53 1168.00,562.90 L1168.00,559.28 Q1168.00,557.65 1169.81,557.65 Z" fill="#0d2240" stroke="#45e6f6" stroke-width="2.7" stroke-linejoin="round" stroke-linecap="round"/><path d="M1168.30,573.77 Q1168.30,572.14 1169.99,572.14 L1199.39,572.14 L1199.39,578.30 L1180.67,578.30 L1174.64,601.24 L1168.30,603.17 Z" fill="#0d2240" stroke="#45e6f6" stroke-width="2.7" stroke-linejoin="round" stroke-linecap="round"/>
<path d="M978.2,689.3 Q1019.3,642.4 1060.4,689.3 Q1019.3,737.2 978.2,689.3 Z" fill="#0a2540" stroke="#0a2540" stroke-width="12" stroke-linejoin="round" filter="url(#blur3)"/>
<path d="M978.2,689.3 Q1019.3,642.4 1060.4,689.3 Q1019.3,737.2 978.2,689.3 Z" fill="#13264a" stroke="#37e2f4" stroke-width="3.6" stroke-linejoin="round"/>
<circle cx="1019.3" cy="689.8" r="17.6" fill="#13264a" stroke="#37e2f4" stroke-width="2.8"/>
<path d="M850.3,754.5 Q850.3,751 853.4,752.7 L900.8,779.2 Q903.6,781 900.8,782.8 L853.4,810 Q850.3,811.8 850.3,808.3 Z" fill="#0a2540" stroke="#0a2540" stroke-width="12" stroke-linejoin="round" filter="url(#blur3)"/>
<path d="M850.3,754.5 Q850.3,751 853.4,752.7 L900.8,779.2 Q903.6,781 900.8,782.8 L853.4,810 Q850.3,811.8 850.3,808.3 Z" fill="#225a7c" stroke="#0e3c5c" stroke-width="6" stroke-linejoin="round"/><path d="M850.3,754.5 Q850.3,751 853.4,752.7 L900.8,779.2 Q903.6,781 900.8,782.8 L853.4,810 Q850.3,811.8 850.3,808.3 Z" fill="none" stroke="#37e2f4" stroke-width="3.5" stroke-linejoin="round"/>
<polygon points="1170.1,746.5 1204.7,764.6 1204.7,805.8 1170.1,823.4 1135.5,805.8 1135.5,764.6" fill="#0a2540" stroke="#0a2540" stroke-width="12" stroke-linejoin="round" filter="url(#blur3)"/>
<polygon points="1170.1,746.5 1204.7,764.6 1204.7,805.8 1170.1,823.4 1135.5,805.8 1135.5,764.6" fill="#10253f" stroke="#37e2f4" stroke-width="3.2" stroke-linejoin="round"/>
<path d="M1170.1,790.9 V748 M1170.1,790.9 L1139,804 M1170.1,790.9 L1201,804" stroke="#3b7c9d" stroke-width="1.6" fill="none"/>
<path d="M1135.5,764.6 L1170.1,780.3 L1204.7,764.6 M1170.1,780.3 V823.4" stroke="#37e2f4" stroke-width="3.2" fill="none" stroke-linejoin="round"/>
<text class="b" x="799.36" y="650.6" font-size="27.5" textLength="135.87" lengthAdjust="spacingAndGlyphs">Operando</text>
<text class="b" x="1115.45" y="650.6" font-size="27.5" textLength="116.08" lengthAdjust="spacingAndGlyphs">Quantify</text>
<text class="b" x="947.08" y="754.1" font-size="27.5" textLength="138.49" lengthAdjust="spacingAndGlyphs">Visualized</text>
<text class="b" x="802.19" y="857" font-size="27.5" textLength="126.26" lengthAdjust="spacingAndGlyphs">Temporal</text>
<text class="b" x="1122.26" y="857" font-size="27.5" textLength="94.52" lengthAdjust="spacingAndGlyphs">Spatial</text>
</svg>
<div id="iris" style="left:1003px;top:673.5px;width:32.6px;height:32.6px;"></div>
<svg width="2048" height="1408" viewBox="0 0 2048 1408" style="pointer-events:none"><circle cx="1019.6" cy="690" r="7.6" fill="#13264a"/><circle cx="1015" cy="684.3" r="2.8" fill="#f9b552"/></svg>
</body></html>
